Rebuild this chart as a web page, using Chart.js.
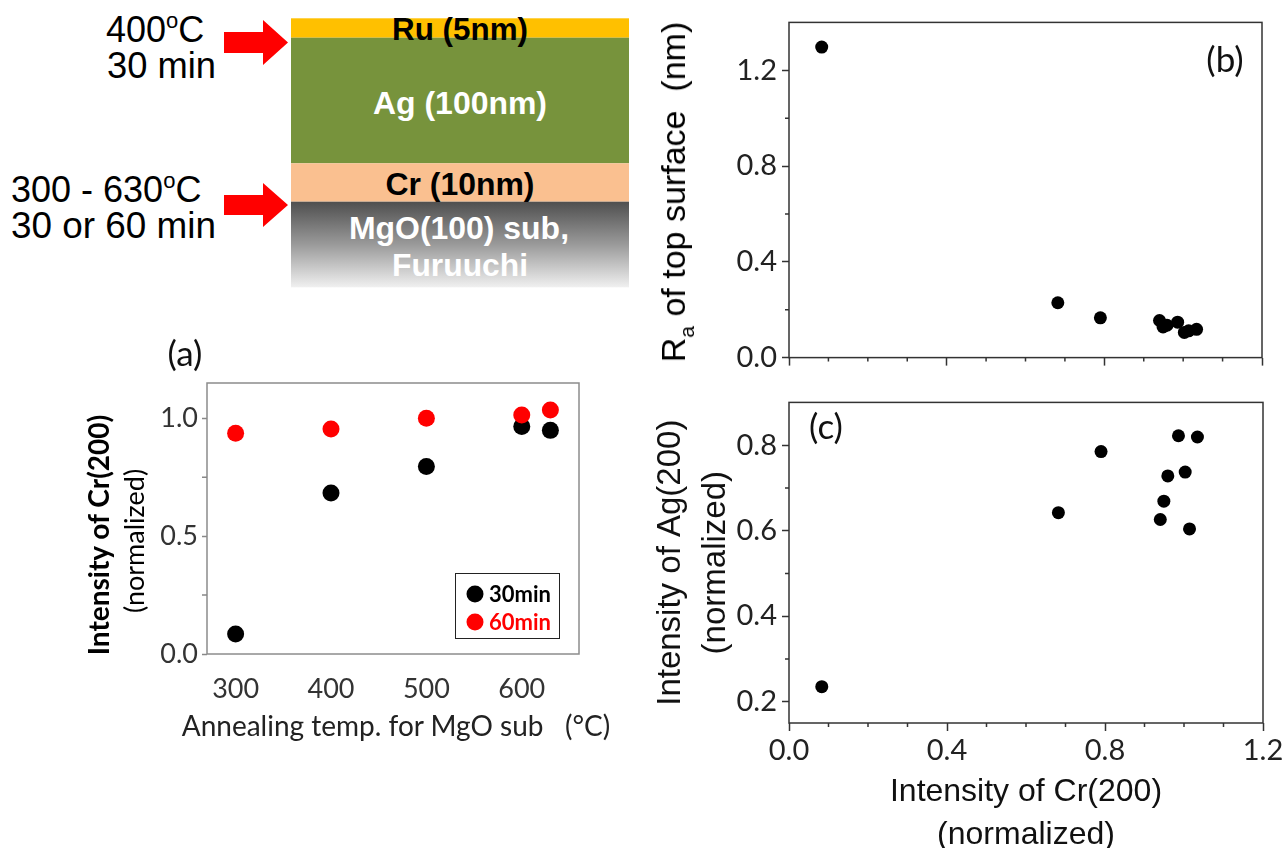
<!DOCTYPE html>
<html>
<head>
<meta charset="utf-8">
<script src="https://cdn.jsdelivr.net/npm/chart.js@4.4.0/dist/chart.umd.min.js"></script>
<style>
  html, body { margin: 0; padding: 0; background: #fff; }
  body { width: 1288px; height: 848px; position: relative; overflow: hidden; font-family: Lato, "Open Sans", sans-serif; }
  canvas { position: absolute; }
  .lbl { position: absolute; white-space: pre; line-height: 1; }
  .rot { transform: translate(-50%, -50%) rotate(-90deg); }
  .ctr { transform: translate(-50%, -50%); }
  .arial { font-family: "Liberation Sans", Arial, sans-serif; }
  .dot { position: absolute; width: 17px; height: 17px; border-radius: 50%; transform: translate(-50%, -50%); }
</style>
</head>
<body>

<!-- Layer stack sketch -->
<svg width="640" height="300" style="position:absolute;left:0;top:0" font-family="Liberation Sans, Arial, sans-serif">
  <defs>
    <linearGradient id="mgoGrad" x1="0" y1="0" x2="0" y2="1">
      <stop offset="0" stop-color="#4f4f4f"/>
      <stop offset="0.5" stop-color="#9a9a9a"/>
      <stop offset="1" stop-color="#f0f0f0"/>
    </linearGradient>
  </defs>
  <rect x="291" y="18.3" width="338" height="19.4" fill="#FFC000"/>
  <rect x="291" y="37.7" width="338" height="125.6" fill="#77933C"/>
  <rect x="291" y="163.3" width="338" height="38.4" fill="#FAC090"/>
  <rect x="291" y="201.7" width="338" height="85.6" fill="url(#mgoGrad)"/>

  <g font-weight="bold" font-size="32" text-anchor="middle" dominant-baseline="central">
    <text x="460" y="29" fill="#000" textLength="136" lengthAdjust="spacingAndGlyphs">Ru (5nm)</text>
    <text x="460" y="103" fill="#fff" textLength="174" lengthAdjust="spacingAndGlyphs">Ag (100nm)</text>
    <text x="460" y="184" fill="#000" textLength="149" lengthAdjust="spacingAndGlyphs">Cr (10nm)</text>
    <text x="459" y="228" fill="#fff" textLength="220" lengthAdjust="spacingAndGlyphs">MgO(100) sub,</text>
    <text x="460" y="265" fill="#fff" textLength="136" lengthAdjust="spacingAndGlyphs">Furuuchi</text>
  </g>

  <g font-size="36" fill="#000">
    <text x="106" y="42">400<tspan font-size="22" dy="-14">o</tspan><tspan dy="14">C</tspan></text>
    <text x="107" y="78" textLength="109" lengthAdjust="spacingAndGlyphs">30 min</text>
    <text x="11" y="202">300 - 630<tspan font-size="22" dy="-14">o</tspan><tspan dy="14">C</tspan></text>
    <text x="11" y="238" textLength="205" lengthAdjust="spacingAndGlyphs">30 or 60 min</text>
  </g>

  <polygon points="224,32 263,32 263,20 288,42.5 263,65 263,53 224,53" fill="#FF0000"/>
  <polygon points="224,195 263,195 263,183 288,205 263,227 263,215 224,215" fill="#FF0000"/>
</svg>

<canvas id="chartA" width="640" height="460" style="left:0;top:300px"></canvas>
<canvas id="chartB" width="648" height="380" style="left:640px;top:0"></canvas>
<canvas id="chartC" width="648" height="500" style="left:640px;top:380px"></canvas>

<!-- Panel letters -->
<div class="lbl ctr" style="left:185px;top:352px;font-size:35px;color:#111">(a)</div>
<div class="lbl ctr" style="left:1225px;top:58px;font-size:35px;color:#111">(b)</div>
<div class="lbl ctr" style="left:826px;top:425px;font-size:35px;color:#111">(c)</div>

<!-- Panel (a) axis titles -->
<div class="lbl rot" style="left:98px;top:535px;font-size:28px;font-weight:bold;color:#000">Intensity of Cr(200)</div>
<div class="lbl rot" style="left:133px;top:541px;font-size:27px;color:#000">(normalized)</div>
<div class="lbl ctr" style="left:396px;top:725px;font-size:28px;color:#222">Annealing temp. for MgO sub   (°C)</div>

<!-- Panel (b) y title -->
<div class="lbl rot arial" style="left:673px;top:192px;font-size:34px;color:#000">R<span style="font-size:21px;position:relative;top:9px">a</span> of top surface  (nm)</div>

<!-- Panel (a) legend -->
<div style="position:absolute;left:455px;top:573px;width:103px;height:64px;border:1.5px solid #222;"></div>
<div class="dot" style="left:475px;top:594px;background:#000"></div>
<div class="dot" style="left:475px;top:622px;background:#ff0000"></div>
<div class="lbl" style="left:489px;top:594px;transform:translateY(-50%);font-size:22px;font-weight:bold;color:#000">30min</div>
<div class="lbl" style="left:489px;top:622px;transform:translateY(-50%);font-size:22px;font-weight:bold;color:#ff0000">60min</div>

<script>
// (a) Cr(200) intensity vs. MgO substrate annealing temperature
const annealTemps30 = [300, 400, 500, 600, 630];
const crIntensity30 = [0.085, 0.683, 0.796, 0.965, 0.949];
const annealTemps60 = [300, 400, 500, 600, 630];
const crIntensity60 = [0.937, 0.955, 1.000, 1.014, 1.035];
const aXTicks = [300, 400, 500, 600];
const aXTickLabels = ['300', '400', '500', '600'];
const aYTicks = [0, 0.5, 1.0];
const aYTickLabels = ['0.0', '0.5', '1.0'];
const aYMinor = [0.25, 0.75];

// (b), (c) one entry per sample
const crNorm = [0.083, 0.682, 0.790, 0.940, 0.949, 0.959, 0.986, 1.003, 1.014, 1.034];
const raTop  = [1.297, 0.229, 0.166, 0.155, 0.128, 0.135, 0.148, 0.105, 0.112, 0.118];
const agNorm = [0.235, 0.642, 0.785, 0.626, 0.669, 0.728, 0.822, 0.737, 0.604, 0.819];
const crTicks = [0, 0.4, 0.8, 1.2];
const crTickLabels = ['0.0', '0.4', '0.8', '1.2'];
const crMinor = [0.1, 0.2, 0.3, 0.5, 0.6, 0.7, 0.9, 1.0, 1.1];
const raTicks = [0, 0.4, 0.8, 1.2];
const raTickLabels = ['0.0', '0.4', '0.8', '1.2'];
const raMinor = [0.2, 0.6, 1.0];
const agTicks = [0.2, 0.4, 0.6, 0.8];
const agTickLabels = ['0.2', '0.4', '0.6', '0.8'];
const agMinor = [0.3, 0.5, 0.7];

Chart.defaults.font.family = 'Lato, "Open Sans", sans-serif';

// Box round the plot area
const frame = {
  id: 'frame',
  beforeDatasetsDraw(chart, args, opts) {
    const a = chart.chartArea, ctx = chart.ctx;
    ctx.save();
    ctx.strokeStyle = opts.color;
    ctx.lineWidth = opts.width;
    ctx.strokeRect(a.left, a.top, a.right - a.left, a.bottom - a.top);
    ctx.restore();
  }
};

// Short unlabelled ticks between the major ones
const minorTicks = {
  id: 'minorTicks',
  afterDraw(chart, args, opts) {
    const a = chart.chartArea, ctx = chart.ctx, s = chart.scales;
    ctx.save();
    ctx.strokeStyle = opts.color;
    ctx.lineWidth = opts.width;
    ctx.beginPath();
    (opts.x || []).forEach(v => {
      const px = s.x.getPixelForValue(v);
      ctx.moveTo(px, a.bottom);
      ctx.lineTo(px, a.bottom + opts.length);
    });
    (opts.y || []).forEach(v => {
      const py = s.y.getPixelForValue(v);
      ctx.moveTo(a.left, py);
      ctx.lineTo(a.left - opts.length, py);
    });
    ctx.stroke();
    ctx.restore();
  }
};

const pts = (xs, ys) => xs.map((x, i) => ({ x: x, y: ys[i] }));
const setTicks = vals => scale => { scale.ticks = vals.map(v => ({ value: v })); };
const common = { responsive: false, animation: false, events: [] };

// (a)
new Chart(document.getElementById('chartA'), {
  type: 'scatter',
  data: {
    datasets: [
      { label: '30min', data: pts(annealTemps30, crIntensity30), backgroundColor: '#000', borderWidth: 0, pointRadius: 8.5, order: 1 },
      { label: '60min', data: pts(annealTemps60, crIntensity60), backgroundColor: '#ff0000', borderWidth: 0, pointRadius: 8.5, order: 0 }
    ]
  },
  options: Object.assign({}, common, {
    layout: { padding: { left: 0, right: 61, top: 83, bottom: 0 } },
    scales: {
      x: {
        type: 'linear', min: 270, max: 660,
        afterBuildTicks: setTicks(aXTicks),
        afterFit: s => { s.height = 106; },
        ticks: { callback: (v, i) => aXTickLabels[i], font: { size: 27 }, color: '#333', padding: 11, autoSkip: false, maxRotation: 0 },
        grid: { display: false },
        border: { display: false }
      },
      y: {
        type: 'linear', min: 0, max: 1.15,
        afterBuildTicks: setTicks(aYTicks),
        afterFit: s => { s.width = 207; },
        ticks: { callback: (v, i) => aYTickLabels[i], font: { size: 27 }, color: '#333', padding: 4 },
        grid: { drawOnChartArea: false, drawTicks: true, tickLength: 5, tickColor: '#888', tickWidth: 1.5 },
        border: { display: false }
      }
    },
    plugins: {
      legend: { display: false }, tooltip: { enabled: false },
      frame: { color: '#8c8c8c', width: 1.5 },
      minorTicks: { y: aYMinor, length: 5, color: '#888', width: 1.5 }
    }
  }),
  plugins: [frame, minorTicks]
});

// (b)
new Chart(document.getElementById('chartB'), {
  type: 'scatter',
  data: { datasets: [{ label: 'Ra', data: pts(crNorm, raTop), backgroundColor: '#000', borderWidth: 0, pointRadius: 6.5 }] },
  options: Object.assign({}, common, {
    layout: { padding: { left: 0, right: 26, top: 17, bottom: 0 } },
    scales: {
      x: {
        type: 'linear', min: 0, max: 1.2,
        afterBuildTicks: setTicks(crTicks),
        afterFit: s => { s.height = 16; },
        ticks: { display: false },
        grid: { drawOnChartArea: false, drawTicks: true, tickLength: 8, tickColor: '#333', tickWidth: 1.5 },
        border: { display: false }
      },
      y: {
        type: 'linear', min: 0, max: 1.4,
        afterBuildTicks: setTicks(raTicks),
        afterFit: s => { s.width = 149; },
        ticks: { callback: (v, i) => raTickLabels[i], font: { size: 29 }, color: '#222', padding: 5 },
        grid: { drawOnChartArea: false, drawTicks: true, tickLength: 7, tickColor: '#333', tickWidth: 1.5 },
        border: { display: false }
      }
    },
    plugins: {
      legend: { display: false }, tooltip: { enabled: false },
      frame: { color: '#333', width: 1.5 },
      minorTicks: { x: crMinor, y: raMinor, length: 4, color: '#333', width: 1.5 }
    }
  }),
  plugins: [frame, minorTicks]
});

// (c)
new Chart(document.getElementById('chartC'), {
  type: 'scatter',
  data: { datasets: [{ label: 'Ag(200)', data: pts(crNorm, agNorm), backgroundColor: '#000', borderWidth: 0, pointRadius: 6.5 }] },
  options: Object.assign({}, common, {
    layout: { padding: { left: 0, right: 25, top: 5, bottom: 0 } },
    scales: {
      x: {
        type: 'linear', min: 0, max: 1.2,
        afterBuildTicks: setTicks(crTicks),
        afterFit: s => { s.height = 157; },
        ticks: { callback: (v, i) => crTickLabels[i], font: { size: 29 }, color: '#222', padding: 2, autoSkip: false, maxRotation: 0 },
        grid: { drawOnChartArea: false, drawTicks: true, tickLength: 8, tickColor: '#333', tickWidth: 1.5 },
        border: { display: false },
        title: { display: true, text: ['Intensity of Cr(200)', '(normalized)'], color: '#111',
                 font: { family: '"Liberation Sans", Arial, sans-serif', size: 32, lineHeight: 1.344 }, padding: { top: 0, bottom: 23.5 } }
      },
      y: {
        type: 'linear', min: 0.15, max: 0.9,
        afterBuildTicks: setTicks(agTicks),
        afterFit: s => { s.width = 149; },
        ticks: { callback: (v, i) => agTickLabels[i], font: { size: 29 }, color: '#222', padding: 5 },
        grid: { drawOnChartArea: false, drawTicks: true, tickLength: 7, tickColor: '#333', tickWidth: 1.5 },
        border: { display: false },
        title: { display: true, text: ['Intensity of Ag(200)', '(normalized)'], color: '#111',
                 font: { family: '"Liberation Sans", Arial, sans-serif', size: 33, lineHeight: 1.36 }, padding: { top: 8.5, bottom: 0 } }
      }
    },
    plugins: {
      legend: { display: false }, tooltip: { enabled: false },
      frame: { color: '#333', width: 1.5 },
      minorTicks: { x: crMinor, y: agMinor, length: 4, color: '#333', width: 1.5 }
    }
  }),
  plugins: [frame, minorTicks]
});
</script>
</body>
</html>
